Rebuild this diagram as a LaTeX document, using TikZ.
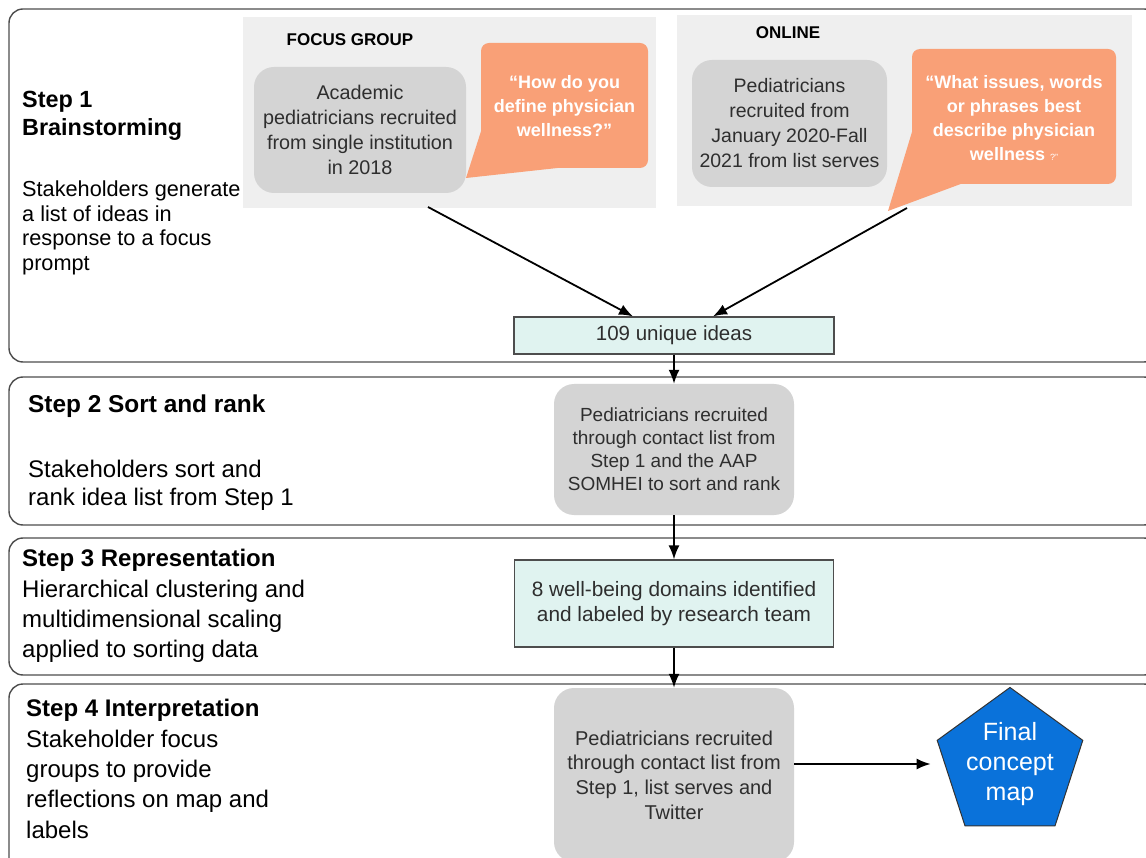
\documentclass[tikz,border=0pt]{standalone}
\usepackage{fontspec}
\setmainfont{Liberation Sans}
\usetikzlibrary{arrows.meta,shapes.geometric}
\definecolor{panelgray}{HTML}{EFEFEF}
\definecolor{boxgray}{HTML}{D4D4D4}
\definecolor{salmon}{HTML}{F9A077}
\definecolor{mint}{HTML}{E0F3F0}
\definecolor{mapblue}{HTML}{0A72DA}
\definecolor{edgegray}{HTML}{4D4D4D}
\definecolor{txtgray}{HTML}{2E2E2E}
\newcommand{\fsz}[2]{\fontsize{#1}{#2}\selectfont}
\begin{document}
\begin{tikzpicture}[x=1pt,y=-1pt,
  stepframe/.style={draw=edgegray, line width=1.4pt, rounded corners=14pt},
  panel/.style={fill=panelgray},
  graybox/.style={fill=boxgray, rounded corners=20pt, inner sep=0pt, align=center, text=txtgray},
  mintbox/.style={fill=mint, draw=edgegray, line width=1.2pt, inner sep=0pt, align=center, text=txtgray},
  bubble/.style={fill=salmon},
  bubbletext/.style={text=white, align=center, inner sep=0pt},
  arr/.style={-{Latex[length=14pt,width=11pt]}, line width=1.8pt},
  steptext/.style={anchor=west, inner sep=0pt, align=left},
]
\clip (0,0) rectangle (1146,858);
\fill[white] (0,0) rectangle (1146,858);

% step frames
\draw[stepframe] (9,9) rectangle (1158,362);
\draw[stepframe] (9,377) rectangle (1158,525);
\draw[stepframe] (9,538) rectangle (1158,675);
\draw[stepframe] (9,684) rectangle (1158,880);

% left texts
\node[steptext, font=\bfseries\fsz{23.4}{28}] (s1t) at (22,116) {Step 1\\Brainstorming};
\node[steptext, font=\fsz{21.7}{24.5}] (s1b) at (22,228) {Stakeholders generate\\a list of ideas in\\response to a focus\\prompt};
\node[steptext, font=\bfseries\fsz{24.4}{28}] (s2t) at (28,406.5) {Step 2 Sort and rank};
\node[steptext, font=\fsz{24}{28}] (s2b) at (28,485) {Stakeholders sort and\\rank idea list from Step 1};
\node[steptext, font=\fsz{24}{30.3}] (s3) at (22,606) {{\bfseries Step 3 Representation}\\Hierarchical clustering and\\multidimensional scaling\\applied to sorting data};
\node[steptext, font=\fsz{24}{30.3}] (s4) at (26,769) {{\bfseries Step 4 Interpretation}\\Stakeholder focus\\groups to provide\\reflections on map and\\labels};

% panels
\fill[panel] (243,17) rectangle (656,208);
\fill[panel] (677,15) rectangle (1132,206);
\node[font=\bfseries\fsz{17}{20}] (fg) at (350,40) {FOCUS GROUP};
\node[font=\bfseries\fsz{17}{20}] (ol) at (788,33) {ONLINE};

% bubbles
\fill[bubble, rounded corners=8pt] (481,43) rectangle (648,168);
\fill[bubble] (483,125) -- (466,178) -- (562,167.5) -- (562,150) -- (483,150) -- cycle;
\node[bubbletext, font=\bfseries\fsz{18}{24}] (q1) at (564.5,106) {“How do you\\define physician\\wellness?”};

\fill[bubble, rounded corners=8pt] (912,49) rectangle (1116,184);
\fill[bubble] (915,122) -- (888,211) -- (962,183.5) -- (962,165) -- (915,165) -- cycle;
\node[bubbletext, font=\bfseries\fsz{18}{24}] (q2) at (1014,118) {“What issues, words\\or phrases best\\describe physician\\wellness {\mdseries\fsz{9}{24}?”}};

% gray recruitment boxes
\node[graybox, minimum width=212pt, minimum height=126pt, font=\fsz{19.8}{25}] (acad) at (360,130) {Academic\\pediatricians recruited\\from single institution\\in 2018};
\node[graybox, minimum width=195pt, minimum height=127pt, font=\fsz{19.5}{25}] (onl) at (789.5,123.5) {Pediatricians\\recruited from\\January 2020-Fall\\2021 from list serves};

% flow
\node[mintbox, minimum width=320pt, minimum height=37pt, font=\fsz{20.5}{25}] (ideas) at (674,335.5) {109 unique ideas};
\node[graybox, minimum width=240pt, minimum height=131pt, font=\fsz{19}{23}] (sort) at (674,449.5) {Pediatricians recruited\\through contact list from\\Step 1 and the AAP\\SOMHEI to sort and rank};
\node[mintbox, minimum width=319pt, minimum height=87pt, font=\fsz{20.8}{25}] (dom) at (674,603.5) {8 well-being domains identified\\and labeled by research team};
\node[graybox, minimum width=240pt, minimum height=174pt, font=\fsz{20}{24.7}] (interp) at (674,775) {Pediatricians recruited\\through contact list from\\Step 1, list serves and\\Twitter};
\node[regular polygon, regular polygon sides=5, minimum size=148pt, fill=mapblue, draw=black!80, line width=1pt, inner sep=0pt, text=white, align=center, font=\fsz{25}{30}] (map) at (1010,764) {Final\\concept\\map};

\coordinate (fgout) at (428,207);
\coordinate (olout) at (907,208);
\draw[arr] (fgout) -- ([xshift=-41pt]ideas.north);
\draw[arr] (olout) -- ([xshift=39pt]ideas.north);
\draw[arr] (ideas.south) -- (sort.north);
\draw[arr] (sort.south) -- (dom.north);
\draw[arr] (dom.south) -- (interp.north);
\draw[arr, shorten >=6pt] (interp.east |- map.center) -- (map.corner 2 |- map.center);
\end{tikzpicture}
\end{document}
